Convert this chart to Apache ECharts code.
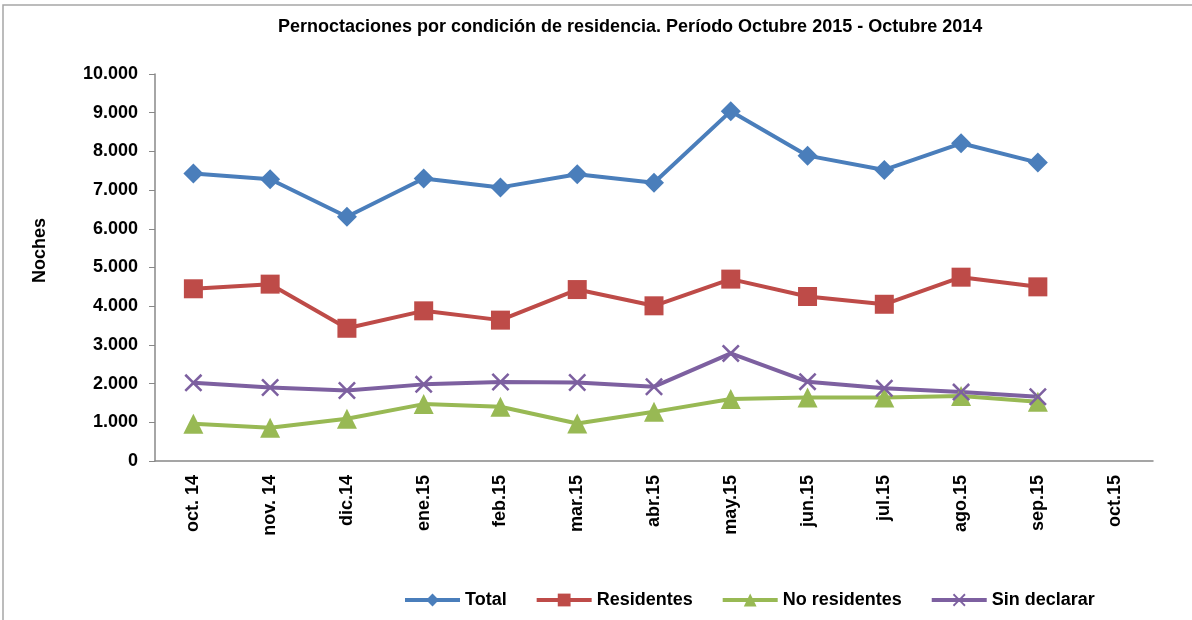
<!DOCTYPE html>
<html>
<head>
<meta charset="utf-8">
<script src="https://cdn.jsdelivr.net/npm/echarts@6/dist/echarts.min.js"></script>
<style>
  html, body { margin: 0; padding: 0; background: #fff; }
  #main { width: 1192px; height: 620px; }
</style>
</head>
<body>
<div id="main"></div>
<script>
    var myChart = echarts.init(document.getElementById('main'));

    var meses = ['oct. 14', 'nov. 14', 'dic.14', 'ene.15', 'feb.15', 'mar.15', 'abr.15',
        'may.15', 'jun.15', 'jul.15', 'ago.15', 'sep.15', 'oct.15'];
    var total = [7430, 7280, 6310, 7300, 7070, 7410, 7190, 9040, 7890, 7520, 8210, 7710];
    var residentes = [4450, 4570, 3430, 3880, 3640, 4430, 4010, 4700, 4250, 4050, 4750, 4500];
    var noResidentes = [960, 860, 1090, 1470, 1400, 970, 1270, 1600, 1640, 1640, 1680, 1530];
    var sinDeclarar = [2020, 1900, 1820, 1980, 2040, 2030, 1920, 2780, 2050, 1880, 1780, 1660];

    var cruz = 'path://M0,1L1,0L5,4L9,0L10,1L6,5L10,9L9,10L5,6L1,10L0,9L4,5Z';
    var fuente = 'Liberation Sans';

    function miles(v) {
        return String(v).replace(/\B(?=(\d{3})+(?!\d))/g, '.');
    }

    function serie(nombre, datos, color, simbolo, tam) {
        return {
            name: nombre,
            type: 'line',
            data: datos,
            symbol: simbolo,
            symbolSize: tam,
            lineStyle: { color: color, width: 4 },
            itemStyle: { color: color },
            animation: false
        };
    }

    var option = {
        title: {
            text: 'Pernoctaciones por condición de residencia. Período Octubre 2015 - Octubre 2014',
            left: 273,
            top: 13,
            textStyle: { fontFamily: fuente, fontWeight: 'bold', fontSize: 18, color: '#000' }
        },
        graphic: [{
            type: 'rect',
            shape: { x: 3, y: 5, width: 1300, height: 700 },
            style: { fill: 'none', stroke: '#a6a6a6', lineWidth: 1.5 }
        }],
        legend: {
            left: 398,
            top: 586,
            itemWidth: 55,
            itemHeight: 16,
            itemGap: 28,
            lineStyle: { width: 4 },
            textStyle: { fontFamily: fuente, fontWeight: 'bold', fontSize: 18, color: '#000' },
            data: ['Total', 'Residentes', 'No residentes', 'Sin declarar']
        },
        grid: { left: 155, right: 39, top: 74, bottom: 159 },
        xAxis: {
            type: 'category',
            data: meses,
            axisLine: { lineStyle: { color: '#888', width: 1.5 } },
            axisTick: { length: 6, lineStyle: { color: '#888' } },
            axisLabel: {
                rotate: 90,
                margin: 14,
                color: '#000',
                fontFamily: fuente,
                fontWeight: 'bold',
                fontSize: 18
            }
        },
        yAxis: {
            type: 'value',
            min: 0,
            max: 10000,
            interval: 1000,
            name: 'Noches',
            nameLocation: 'middle',
            nameGap: 106,
            nameTextStyle: {
                fontFamily: fuente, fontWeight: 'bold', fontSize: 18, color: '#000',
                padding: [0, 0, 0, 34]
            },
            axisLine: { show: true, lineStyle: { color: '#888', width: 1.5 } },
            axisTick: { show: true, inside: false, length: 6, lineStyle: { color: '#888' } },
            splitLine: { show: false },
            axisLabel: {
                margin: 17,
                color: '#000',
                fontFamily: fuente,
                fontWeight: 'bold',
                fontSize: 18,
                formatter: miles
            }
        },
        series: [
            serie('Total', total, '#4a7ebb', 'diamond', 20),
            serie('Residentes', residentes, '#be4b48', 'rect', 19),
            serie('No residentes', noResidentes, '#98b954', 'triangle', 20),
            serie('Sin declarar', sinDeclarar, '#7d60a0', cruz, 18)
        ]
    };
    myChart.setOption(option);
</script>
</body>
</html>
